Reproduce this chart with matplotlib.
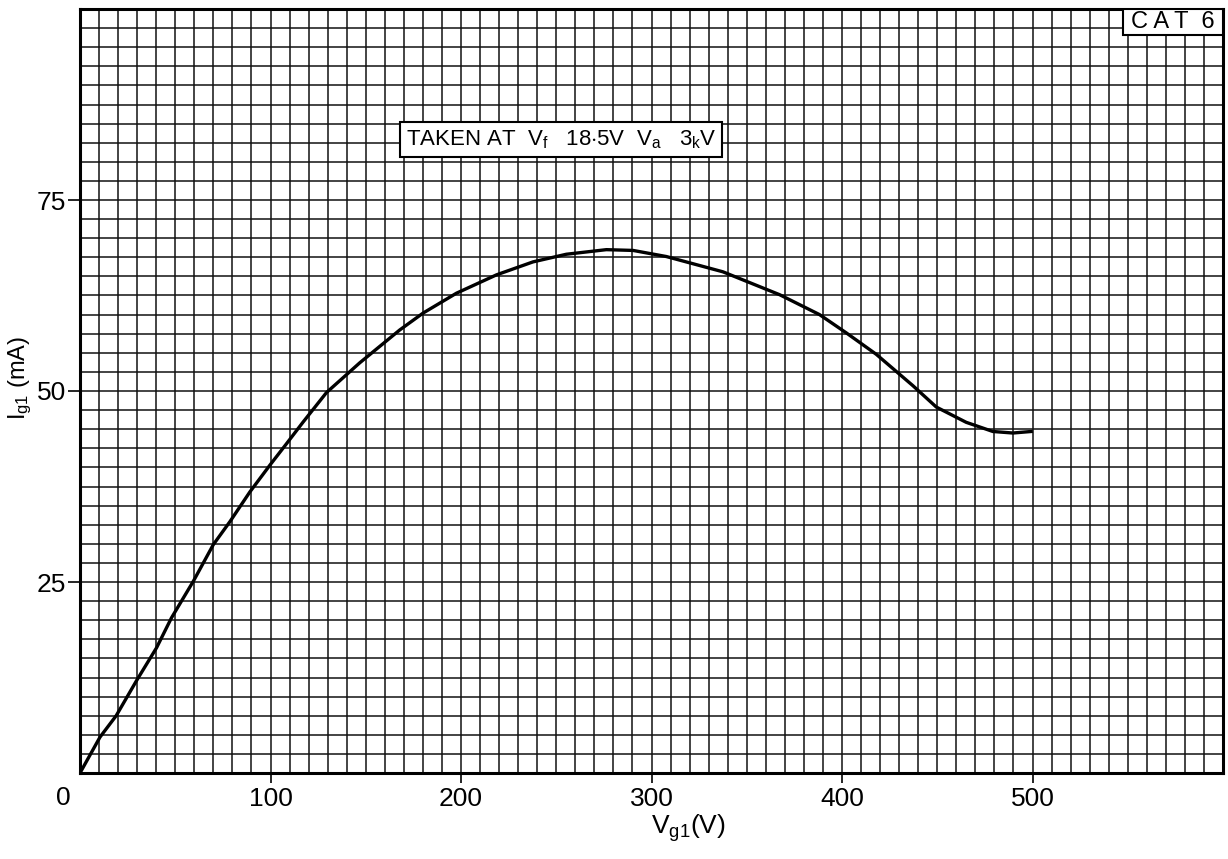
import numpy as np
import matplotlib
matplotlib.use("Agg")
import matplotlib.pyplot as plt
from matplotlib.patches import Rectangle
from matplotlib.ticker import MultipleLocator

plt.rcParams['font.family'] = ['Liberation Sans', 'DejaVu Sans']
plt.rcParams['mathtext.fontset'] = 'custom'
plt.rcParams['mathtext.rm'] = 'Liberation Sans'
plt.rcParams['mathtext.it'] = 'Liberation Sans'

# curve: grid voltage (V) vs grid current (mA)
vg1 = [0, 10.5, 19, 29.7, 40.2, 48, 59.5, 70, 78.7, 89.2, 99.7, 108.4, 117,
       129.4, 146.9, 167.9, 180.1, 197.6, 218.6, 237.8, 255.3, 276.3, 290.3,
       307.8, 337.5, 367.3, 388.2, 402.3, 418, 437.2, 449.5, 465.2, 479.2,
       489.7, 499.3]
ig1 = [0, 4.7, 7.5, 12.1, 16.4, 20.3, 25.1, 29.9, 32.9, 36.8, 40.3, 43.1, 45.9,
       49.8, 53.7, 58.0, 60.2, 62.8, 65.2, 66.9, 67.9, 68.5, 68.4,
       67.6, 65.6, 62.6, 60.0, 57.6, 54.8, 50.7, 47.9, 45.9, 44.7,
       44.5, 44.7]

xticks = [100, 200, 300, 400, 500]
yticks = [25, 50, 75]

fig = plt.figure(figsize=(12.28, 8.59), dpi=100)
ax = fig.add_axes([80/1228, 86/859, 1143/1228, 764/859])

ax.set_xlim(0, 600)
ax.set_ylim(0, 100)

# graph paper grid
ax.xaxis.set_minor_locator(MultipleLocator(10))
ax.yaxis.set_minor_locator(MultipleLocator(2.5))
ax.grid(which='minor', color='#111111', lw=1.1)
ax.grid(which='major', color='#111111', lw=1.1)
ax.set_axisbelow(True)

ax.plot(vg1, ig1, color='black', lw=2.4, solid_joinstyle='round', zorder=3)

ax.set_xticks(xticks)
ax.set_xticklabels([str(t) for t in xticks])
ax.set_yticks(yticks)
ax.set_yticklabels([str(t) for t in yticks])
ax.tick_params(axis='x', which='major', length=7, width=1.2, pad=3, labelsize=19)
ax.tick_params(axis='y', which='major', length=9, width=1.2, pad=1, labelsize=19)
ax.tick_params(which='minor', length=0)

for s in ax.spines.values():
    s.set_linewidth(2.2)
    s.set_color('black')

# zero label sits left of the origin
ax.text(-0.015, -0.017, "0", transform=ax.transAxes, ha='center', va='top', fontsize=19)

fig.text(688/1228, 1 - 828/859, r"V$_{\mathregular{g1}}$(V)", ha='center', va='center', fontsize=19)
fig.text(20/1228, 1 - 378/859, r"I$_{\mathregular{g1}}$ (mA)", ha='center', va='center',
         fontsize=17, rotation=90)

# annotation boxes
ax.add_patch(Rectangle((0.2799, 0.806), 0.2818, 0.046, transform=ax.transAxes,
                       facecolor='white', edgecolor='black', lw=1.5, zorder=4))
ax.text(0.421, 0.829,
        r"TAKEN AT  V$_{\mathregular{f}}$   18$\cdot$5V  V$_{\mathregular{a}}$   3$_{\mathregular{k}}$V",
        transform=ax.transAxes, ha='center', va='center', fontsize=16, zorder=5)

ax.add_patch(Rectangle((0.9125, 0.966), 0.0875, 0.034, transform=ax.transAxes,
                       facecolor='white', edgecolor='black', lw=1.5, zorder=4))
ax.text(0.956, 0.983, "C A T  6", transform=ax.transAxes, ha='center', va='center',
        fontsize=17, zorder=5)

fig.savefig("out.png", dpi=100, facecolor='white')
